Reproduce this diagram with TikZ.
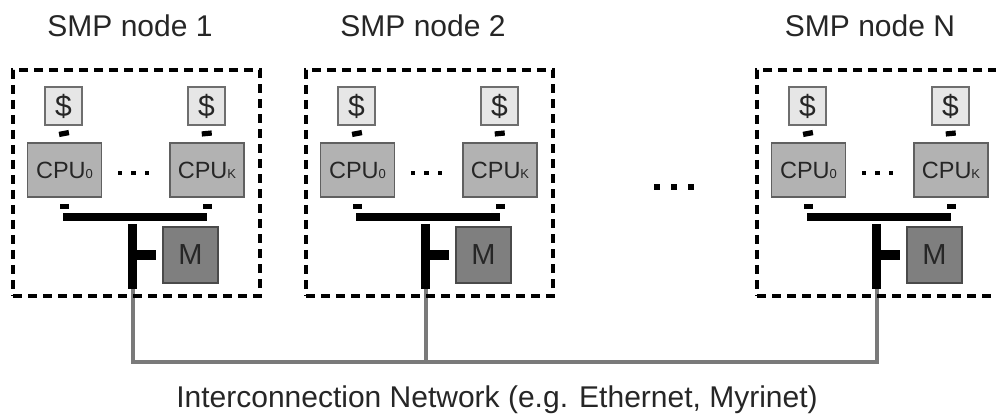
\documentclass[tikz,border=0pt]{standalone}
\usepackage{fontspec}
\setmainfont{Liberation Sans}
\usetikzlibrary{backgrounds}
\definecolor{cachefill}{HTML}{E6E6E6}
\definecolor{cachedraw}{HTML}{6E6E6E}
\definecolor{cpufill}{HTML}{B2B2B2}
\definecolor{cpudraw}{HTML}{606060}
\definecolor{memfill}{HTML}{7F7F7F}
\definecolor{memdraw}{HTML}{4A4A4A}
\definecolor{netgray}{HTML}{7A7A7A}
\definecolor{txt}{HTML}{262626}
\tikzset{
  ttl/.style={font=\fontsize{30}{36}\selectfont, text=txt, anchor=base, inner sep=0pt},
  smpbox/.style={draw=black, line width=4.5pt, dash pattern=on 9pt off 6pt, rectangle, inner sep=0pt},
  cache/.style={draw=cachedraw, fill=cachefill, line width=1.8pt, minimum width=37pt, minimum height=38pt, inner sep=0pt, font=\fontsize{30}{30}\selectfont, text=txt},
  cpu/.style={draw=cpudraw, fill=cpufill, line width=1.8pt, minimum width=74pt, minimum height=54pt, inner sep=0pt, font=\fontsize{23.5}{23.5}\selectfont, text=txt},
  mem/.style={draw=memdraw, fill=memfill, line width=1.8pt, minimum width=55pt, minimum height=56pt, inner sep=0pt, font=\fontsize{29}{29}\selectfont, text=txt},
  sdot/.style={fill=black, minimum size=4.5pt, inner sep=0pt},
  bdot/.style={fill=black, minimum size=6pt, inner sep=0pt},
  link/.style={draw=black, line width=10pt},
  stub/.style={draw=black, line width=9pt},
  busline/.style={draw=black, line width=8pt},
  vbus/.style={draw=black, line width=9pt},
  net/.style={draw=netgray, line width=4pt}
}
\newcommand{\cpusub}[1]{{\fontsize{13}{13}\selectfont #1}}
\newcommand{\smpnode}[4]{%
\begin{scope}[xshift=#2pt]
  \node[ttl] (#1t) at (#4,37) {#3};
  \node[smpbox, minimum width=247pt, minimum height=226pt] (#1box) at (136.5,183) {};
  \node[cache] (#1s0) at (63.5,106) {\$};
  \node[cache] (#1sk) at (206.5,106) {\$};
  \node[cpu] (#1c0) at (64.5,170) {CPU\cpusub{0}};
  \node[cpu] (#1ck) at (207,170) {CPU\cpusub{K}};
  \node[mem] (#1m) at (190.5,255) {M};
  \node[sdot] (#1da) at (120,173) {};
  \node[sdot] (#1db) at (133.5,173) {};
  \node[sdot] (#1dc) at (147,173) {};
  \draw[link] ([yshift=-5pt]#1s0.south) -- ([yshift=6pt]#1c0.north);
  \draw[link] ([yshift=-5pt]#1sk.south) -- ([yshift=6pt]#1ck.north);
  \draw[stub] ([yshift=-6pt]#1c0.south) -- ([yshift=-11pt]#1c0.south);
  \draw[stub] ([yshift=-6pt]#1ck.south) -- ([yshift=-11pt]#1ck.south);
  \draw[busline] ([yshift=-19pt,xshift=-1.5pt]#1c0.south) -- ([yshift=-19pt]#1ck.south);
  \coordinate (#1vt) at (132.5,224);
  \coordinate (#1vb) at (132.5,289);
  \draw[vbus] (#1vt) -- (#1vb);
  \draw[vbus] (#1vt |- #1m.west) ++(4.5,0) -- ([xshift=-6pt]#1m.west);
\end{scope}}
\begin{document}
\begin{tikzpicture}[x=1pt,y=-1pt]
  \useasboundingbox (0,0) rectangle (996,414);
  \clip (0,0) rectangle (996,414);
  \smpnode{a}{0}{SMP node 1}{130}
  \smpnode{b}{293}{SMP node 2}{130}
  \smpnode{n}{744}{SMP node N}{126}
  \node[bdot] (md1) at (657,187) {};
  \node[bdot] (md2) at (674,187) {};
  \node[bdot] (md3) at (691,187) {};
  \begin{pgfonlayer}{background}
    \draw[net] (avb) -- ++(0,73) -| (nvb);
    \draw[net] (bvb) -- ++(0,73);
  \end{pgfonlayer}
  \node[ttl] (netlabel) at (497,407) {Interconnection Network (e.g. Ethernet, Myrinet)};
\end{tikzpicture}
\end{document}
